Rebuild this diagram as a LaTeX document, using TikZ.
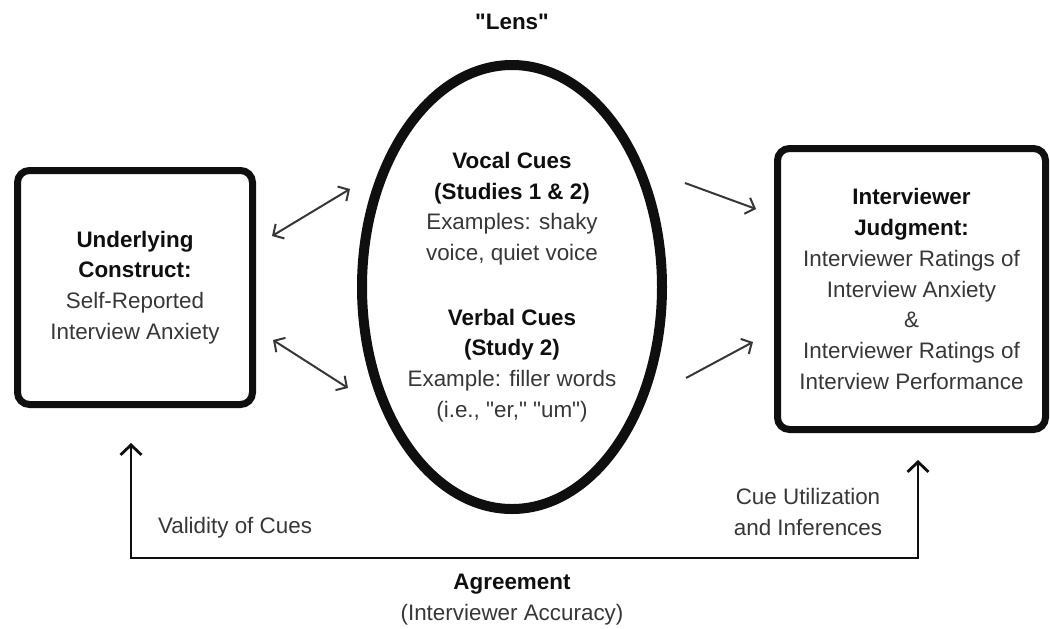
\documentclass[tikz,border=0pt]{standalone}
\usepackage{fontspec}
\setmainfont{Liberation Sans}
\usepackage{xcolor}
\definecolor{lensInk}{RGB}{15,15,15}
\definecolor{lensGray}{RGB}{55,55,55}
\usetikzlibrary{positioning,shapes.geometric,arrows.meta}
\newcommand{\cuefont}{\fontsize{11.2}{15.4}\selectfont}
\newcommand{\hd}[1]{\textcolor{lensInk}{\textbf{#1}}}
\newcommand{\qq}{\textquotedbl}
\tikzset{
  cuebox/.style={rectangle,draw=lensInk,line width=3.5pt,rounded corners=6pt,
    align=center,text=lensGray,font=\cuefont,inner sep=0pt},
  lensring/.style={ellipse,draw=lensInk,line width=5pt,
    align=center,text=lensGray,font=\cuefont,inner sep=0pt},
  dblarrow/.style={{Straight Barb[length=4pt,width=8.5pt]}-{Straight Barb[length=4pt,width=8.5pt]},
    draw=lensGray,line width=1pt},
  arrow/.style={-{Straight Barb[length=4pt,width=8.5pt]},draw=lensGray,line width=1pt},
  loopline/.style={{Straight Barb[length=5pt,width=10.5pt]}-{Straight Barb[length=5pt,width=10.5pt]},
    draw=lensInk,line width=1.4pt},
  note/.style={align=center,text=lensGray,font=\cuefont,inner sep=0pt}
}

\begin{document}
\begin{tikzpicture}[x=0.5pt,y=-0.5pt]
  \useasboundingbox (0,0) rectangle (1050,628);
  % the three parts of the lens model
  \node[cuebox, minimum width=117.5pt, minimum height=117pt] (construct) at (135,287.5)
    {\hd{Underlying}\\\hd{Construct:}\\Self-Reported\\Interview Anxiety};
  \node[lensring, minimum width=150pt, minimum height=222pt] (lens) at (512,287)
    {\hd{Vocal Cues}\\\hd{(Studies 1 \& 2)}\\Examples: shaky\\voice, quiet voice\\[16.8pt]
     \hd{Verbal Cues}\\\hd{(Study 2)}\\Example: filler words\\(i.e., \qq er,\qq{} \qq um\qq)};
  \node[cuebox, minimum width=134pt, minimum height=140.5pt] (judgment) at (911.5,289)
    {\hd{Interviewer}\\\hd{Judgment:}\\Interviewer Ratings of\\Interview Anxiety\\\&\\
     Interviewer Ratings of\\Interview Performance};
  \node[note] (lenstitle) at (512,22) {\hd{\qq Lens\qq}};
  % cue arrows
  \coordinate (ctTop) at (272,236);
  \coordinate (lsTop) at (350,189);
  \coordinate (ctBot) at (273,340);
  \coordinate (lsBot) at (348,388);
  \coordinate (lsOutTop) at (685,183);
  \coordinate (jdTop) at (756,209);
  \coordinate (lsOutBot) at (686,378);
  \coordinate (jdBot) at (753,342);
  \draw[dblarrow] (ctTop) -- (lsTop);
  \draw[dblarrow] (ctBot) -- (lsBot);
  \draw[arrow] (lsOutTop) -- (jdTop);
  \draw[arrow] (lsOutBot) -- (jdBot);
  % agreement loop
  \coordinate (valTip) at (131,443);
  \coordinate (agrL) at (131,558);
  \coordinate (agrR) at (918,558);
  \coordinate (infTip) at (918,460);
  \draw[loopline] (valTip) -- (agrL) -- (agrR) -- (infTip);
  \node[note] (validity) at (235,528) {Validity of Cues};
  \node[note] (inference) at (808,512) {Cue Utilization\\and Inferences};
  \node[note] (agreement) at (512,600) {\hd{Agreement}\\(Interviewer Accuracy)};
\end{tikzpicture}
\end{document}
